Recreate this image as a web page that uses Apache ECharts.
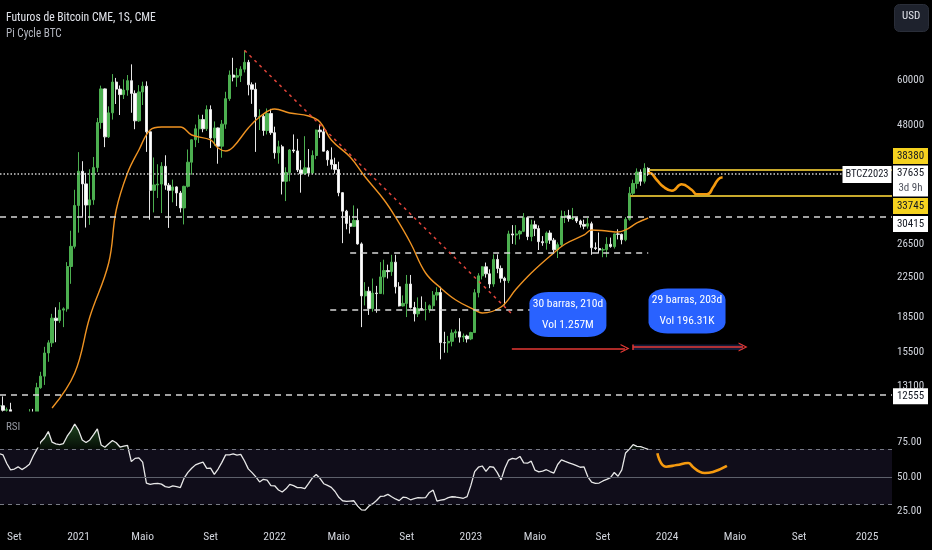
<!DOCTYPE html>
<html><head><meta charset="utf-8">
<script src="https://cdn.jsdelivr.net/npm/echarts@6/dist/echarts.min.js"></script>
<style>html,body{margin:0;padding:0;background:#000;}#c{width:932px;height:550px;}</style>
</head><body><div id="c"></div>
<script>
const FONT = '"Roboto Condensed","DejaVu Sans Condensed",sans-serif';

// ---------- DATA ----------
const firstWeek = '2020-08-10'; // weekly bars (1S)
const candleOpen = [
11900,11910,11650,11680,10250,10780,10775,10780,11070,11500,
11420,13030,13800,15480,16280,18400,18180,19150,19270,23780,
26280,32190,38150,35830,32260,33100,38850,48580,57410,45250,
50980,59400,57350,55810,57090,59800,56150,49000,56550,58200,
46400,34700,35650,35800,39100,35600,34700,35300,34250,31800,
35400,39900,44600,47100,49300,47100,51800,45000,47300,43200,
48200,54700,61500,60850,61300,63300,65500,58600,57300,50000,
50100,46700,50800,46200,41800,43080,36300,37900,42400,42200,
38400,37700,38800,37800,41250,46800,46400,42150,40380,39450,
38470,34300,31300,29450,29020,29900,26600,20550,21030,19300,
20840,20790,22580,23300,23180,24300,21500,19550,19800,21800,
19400,18800,19300,19200,19200,19570,20630,20900,16300,16280,
16400,17100,17200,16750,16840,16600,17130,20880,22700,23740,
22930,21800,24630,23550,22430,22170,27950,27800,27950,28320,
30300,27590,29250,28700,26900,26750,28080,27100,25830,26500,
30500,30600,30150,30300,29800,29300,29050,29400,26100,26000,
25800,25850,26550,26250,27950,27900,27150,30050,34200,35900,
38000,36300,38700];
const candleClose = [
11910,11650,11680,10250,10780,10775,10780,11070,11500,11420,
13030,13800,15480,16280,18400,18180,19150,19270,23780,26280,
32190,38150,35830,32260,33100,38850,48580,57410,45250,50980,
59400,57350,55810,57090,59800,56150,49000,56550,58200,46400,
34700,35650,35800,39100,35600,34700,35300,34250,31800,35400,
39900,44600,47100,49300,47100,51800,45000,47300,43200,48200,
54700,61500,60850,61300,63300,65500,58600,57300,50000,50100,
46700,50800,46200,41800,43080,36300,37900,42400,42200,38400,
37700,38800,37800,41250,46800,46400,42150,40380,39450,38470,
34300,31300,29450,29020,29900,26600,20550,21030,19300,20840,
20790,22580,23300,23180,24300,21500,19550,19800,21800,19400,
18800,19300,19200,19200,19570,20630,20900,16300,16280,16400,
17100,17200,16750,16840,16600,17130,20880,22700,23740,22930,
21800,24630,23550,22430,22170,27950,27800,27950,28320,30300,
27590,29250,28700,26900,26750,28080,27100,25830,26500,30500,
30600,30150,30300,29800,29300,29050,29400,26100,26000,25800,
25850,26550,26250,27950,27900,27150,30050,34200,35900,38000,
36300,38700,37635];
const candleHigh = [
12100,12480,11810,12090,10800,11180,10990,11100,11720,11730,
13350,14100,15960,16490,18800,19420,19920,19420,24300,28400,
34800,41950,40100,37850,38530,40950,49700,58350,57530,52640,
61790,60630,58400,60200,61500,64850,57000,58500,59500,59600,
46600,40850,39500,39900,41300,36000,36600,35400,34600,35500,
42500,44700,48100,50500,50500,52900,52900,48850,47400,49200,
56600,62900,67000,63700,64250,69500,66300,59300,59200,51900,
50700,52100,52000,47600,44400,43500,38900,42600,45800,44800,
40300,45400,42600,42300,46900,48200,47200,42400,42950,40800,
40000,34400,31500,30600,32200,31700,26800,22000,21500,22400,
21600,24300,24600,24000,25200,25200,22000,20600,22800,22800,
19950,20400,20500,19950,19700,21050,21450,21500,17200,16850,
17400,17400,18400,17050,16950,17200,21250,23000,23800,24250,
23450,25250,25250,23900,22600,28400,29200,29200,28500,31000,
30500,30000,29850,29150,27650,28300,28450,27400,26800,31400,
31300,31500,31800,30400,30000,30000,30250,29700,26800,28150,
26100,27500,27450,28000,28600,28000,30400,35300,36600,38700,
38500,39700,38900];
const candleLow = [
11150,11530,11120,9880,9880,10200,10140,10370,10530,11230,
11400,12960,13210,14820,15950,16330,17980,17600,19000,21820,
26000,28130,30420,28850,29240,32300,37990,47100,43000,45000,
49300,53270,50430,54600,55500,51000,47000,48750,53000,42000,
30000,31100,33400,31000,34800,28800,32700,32100,31100,29300,
35200,37500,43000,43900,46300,46600,42800,43300,39600,40800,
47100,54100,59600,58000,59400,62300,55600,53300,42000,46800,
45500,45800,45700,40600,39600,34000,32900,36300,41800,38000,
34300,37450,37150,37600,40500,45000,42100,39200,38500,37700,
33700,26700,28600,28000,29000,26500,17600,19600,18700,19000,
18900,20750,20700,22400,22700,20800,19500,19500,18500,19300,
18100,18500,19100,18200,18900,19250,20100,15000,15500,15500,
16000,16700,16300,16350,16300,16500,17100,20400,22300,22500,
21350,21500,23000,21950,19600,21900,26600,26500,27200,28200,
27100,26950,27650,25800,26350,25850,26600,25350,24800,26250,
29500,29700,29950,29500,28850,28600,28700,25200,25800,25350,
24900,24900,26100,26000,27200,26550,26950,29850,33900,35000,
35500,35900,37300];
const rsiValues = [
66.7,65.8,59.6,55.0,55.6,57.2,55.2,56.9,59.0,65.0,
70.0,75.1,78.0,82.7,75.0,73.8,73.2,74.0,79.3,83.2,
88.1,83.7,76.6,74.7,76.6,80.4,84.6,73.0,71.3,73.9,
76.2,74.6,71.5,72.1,72.7,61.0,63.3,63.7,60.6,45.5,
44.6,45.1,45.3,44.7,42.9,42.4,43.4,42.9,42.2,49.1,
53.2,56.2,58.6,59.7,60.6,56.1,56.2,51.7,55.6,60.4,
65.8,65.8,66.5,65.6,66.2,61.4,55.7,53.0,49.9,46.3,
48.2,47.6,43.7,43.5,40.5,39.0,41.3,44.5,43.6,42.2,
42.2,41.5,45.2,49.2,51.7,48.9,45.0,43.8,42.4,39.4,
35.2,32.7,32.3,32.5,32.7,28.8,26.1,25.9,28.9,30.6,
32.9,35.8,36.1,37.3,35.6,34.0,32.8,35.3,34.9,33.4,
34.2,34.9,34.8,35.0,38.7,40.4,32.5,33.2,33.6,35.0,
35.6,35.4,35.0,34.5,35.7,43.8,53.7,56.9,57.8,53.9,
57.4,56.9,53.0,47.8,56.2,62.1,63.3,62.8,64.7,60.1,
59.8,61.3,54.8,53.5,54.1,55.1,53.8,52.7,58.9,62.2,
61.1,60.1,59.1,58.1,56.9,57.1,50.0,46.2,45.3,45.5,
47.0,48.1,49.4,53.1,50.4,55.0,67.2,70.0,73.2,72.0,
71.8,70.8,69.8];

const piDates = ['2020-11-16','2020-12-28','2021-01-25','2021-03-01','2021-03-15','2021-04-05','2021-04-26','2021-05-17','2021-06-07','2021-07-12','2021-08-02','2021-09-06','2021-09-20','2021-10-04','2021-10-18','2021-11-15','2021-12-06','2022-01-03','2022-01-31','2022-03-07','2022-03-28','2022-04-18','2022-05-23','2022-06-20','2022-07-25','2022-08-15','2022-09-12','2022-10-10','2022-11-07','2022-12-05','2023-01-09','2023-01-23','2023-02-27','2023-03-27','2023-04-24','2023-05-29','2023-06-26','2023-07-31','2023-08-14','2023-09-11','2023-10-02','2023-10-16','2023-11-06','2023-11-27'];
const piValues = [11784,14020,18509,24199,31477,37822,42396,46821,47522,47522,45671,44552,42817,42186,43031,47288,49942,51963,50939,50187,48718,44552,40947,37078,33082,30402,26721,23025,21373,20139,19164,18881,19453,21268,23025,25054,26589,27805,28505,28362,28223,28505,29510,30251];

const projPriceDates = ['2023-11-30','2023-12-13','2023-12-25','2024-01-10','2024-01-28','2024-02-16','2024-02-25','2024-03-15','2024-03-27','2024-04-05','2024-04-13'];
const projPriceValues = [37822,36531,35337,34641,35760,34763,34029,34029,35337,36658,37023];
const projRsiDates = ['2023-12-14','2023-12-30','2024-01-19','2024-02-09','2024-02-18','2024-03-02','2024-03-11','2024-03-26','2024-04-21'];
const projRsiValues = [67.0,57.3,58.5,60.0,57.1,53.5,52.7,53.5,57.8];

const lastPrice = 37635, lastLabel = '3d 9h', symbolName = 'BTCZ2023';
const rangeHigh = 38380, rangeLow = 33745;
const levelFull = [30415, 12555];
const levelPartial = [{from:'2022-05-23', to:'2023-11-27', price:25430}, {from:'2022-04-16', to:'2023-04-22', price:19213}];
const rangeHighFrom = '2023-11-29', rangeLowFrom = '2023-10-24';
const trendFrom = ['2021-11-08', 69500], trendTo = ['2023-03-21', 18694];
const dateRanges = [
  {from:'2023-03-19', to:'2023-10-15', price:15830, boxDate:'2023-07-01', boxPrice:18742, lines:['30 barras, 210d','Vol 1.257M']},
  {from:'2023-10-30', to:'2024-05-21', price:15949, boxDate:'2024-02-07', boxPrice:19069, lines:['29 barras, 203d','Vol 196.31K'], bandTop:16150, bandBottom:15720}
];

const priceTicks = [60000, 48000, 26500, 22500, 18500, 15500, 13100];
const rsiTicks = [25, 50, 75];
const rsiLevels = {upper:70, middle:50, lower:30};
const xTickDates = ['2020-09-07','2021-01-04','2021-05-03','2021-09-06','2022-01-03','2022-05-02','2022-09-05','2023-01-02','2023-05-01','2023-09-04','2024-01-01','2024-05-06','2024-09-02','2025-01-06'];
const xTickLabels = ['Set','2021','Maio','Set','2022','Maio','Set','2023','Maio','Set','2024','Maio','Set','2025'];

// ---------- BUILD ----------
const ts = s => { const p = s.split('-').map(Number); return Date.UTC(p[0], p[1]-1, p[2]); };
const WEEK = 7*86400000;
const weekTimes = candleOpen.map((_, i) => ts(firstWeek) + i*WEEK);
const X_MIN = Date.UTC(2020,7,11,8,38), X_MAX = Date.UTC(2025,1,21,7,0);
const P_MIN = 11607, P_MAX = 89252;
const xLabelMap = {}; xTickDates.forEach((d,i)=>{ xLabelMap[ts(d)] = xTickLabels[i]; });

const candleData = weekTimes.map((t,i)=>[t, candleOpen[i], candleClose[i], candleLow[i], candleHigh[i]]);
const rsiData = weekTimes.map((t,i)=>[t, rsiValues[i]]);
const piData = piDates.map((d,i)=>[ts(d), piValues[i]]);
const projPrice = [[weekTimes[weekTimes.length-1], lastPrice]].concat(projPriceDates.map((d,i)=>[ts(d), projPriceValues[i]]));
const projRsi = projRsiDates.map((d,i)=>[ts(d), projRsiValues[i]]);

const lblColor = '#d1d4dc';
const AX_FS = 11, BOX_FS = 11.5;
const dashW = {color:'#d6d6d6', width:1.5, type:[6,5]};
const redLine = {color:'#e53935', width:1.5, type:'solid'};
const chevron = 'path://M0,10L6,0L12,10L10.4,10L6,2.8L1.6,10Z';

const axisBox = (value, text, bg, dy, h) => ({
  coord:[X_MAX, value], symbol:'rect', symbolSize:[35, h||16], symbolOffset:[18.5, dy],
  itemStyle:{color:bg},
  label:{show:true, position:'inside', formatter:text, color:'#131722', fontSize:AX_FS, fontFamily:FONT}
});

const option = {
  animation:false,
  backgroundColor:'#000000',
  textStyle:{fontFamily:FONT},
  grid:[
    {left:0, right:40, top:0, height:411},
    {left:0, right:40, top:418, height:107}
  ],
  xAxis:[
    {type:'value', gridIndex:0, min:X_MIN, max:X_MAX, show:false, splitLine:{show:false}},
    {type:'value', gridIndex:1, min:X_MIN, max:X_MAX,
     axisLine:{show:false}, axisTick:{show:false}, splitLine:{show:false},
     axisLabel:{customValues:xTickDates.map(ts), formatter:v=>xLabelMap[v]||'', color:lblColor, fontSize:11.5, margin:6, fontFamily:FONT}}
  ],
  yAxis:[
    {type:'log', gridIndex:0, position:'right', min:P_MIN, max:P_MAX, logBase:10,
     axisLine:{show:false}, axisTick:{show:false}, splitLine:{show:false},
     axisLabel:{customValues:priceTicks, formatter:v=>String(Math.round(v)), color:lblColor, fontSize:AX_FS, margin:5, fontFamily:FONT}},
    {type:'value', gridIndex:1, position:'right', min:15.2, max:92.45,
     axisLine:{show:false}, axisTick:{show:false}, splitLine:{show:false},
     axisLabel:{customValues:rsiTicks, formatter:v=>Number(v).toFixed(2), color:lblColor, fontSize:AX_FS, margin:5, fontFamily:FONT}}
  ],
  graphic:[
    // pane separator mask: hides candle wicks that run below the price pane
    {type:'rect', left:0, top:411.5, z:100, shape:{width:40, height:36}, style:{fill:'#000000'}},
    {type:'text', left:6, top:11, scaleX:0.93, originX:6, style:{text:'Futuros de Bitcoin CME, 1S, CME', fill:'#e1e3ea', fontSize:12.5, fontFamily:FONT}},
    {type:'text', left:6, top:28, scaleX:0.93, originX:6, style:{text:'Pi Cycle BTC', fill:'#b2b5be', fontSize:12, fontFamily:FONT}},
    {type:'text', left:6, top:422, z:101, style:{text:'RSI', fill:'#9598a1', fontSize:11, fontFamily:FONT}},
    {type:'rect', left:894, top:4, shape:{width:34, height:27, r:5}, style:{fill:'#1e222d', stroke:'#2a2e39', lineWidth:1}},
    {type:'text', left:902, top:11, style:{text:'USD', fill:'#e1e3ea', fontSize:AX_FS, fontFamily:FONT}}
  ],
  series:[
    {type:'line', name:'levels', xAxisIndex:0, yAxisIndex:0, data:[], z:2, silent:true,
     markLine:{silent:true, symbol:'none', label:{show:false}, animation:false, data:[
       {yAxis:lastPrice, lineStyle:{color:'#cfcfcf', width:1.5, type:[1.5,2]}},
       {yAxis:levelFull[0], lineStyle:dashW},
       {yAxis:levelFull[1], lineStyle:dashW},
       [{coord:[ts(levelPartial[0].from), levelPartial[0].price], lineStyle:dashW},{coord:[ts(levelPartial[0].to), levelPartial[0].price]}],
       [{coord:[ts(levelPartial[1].from), levelPartial[1].price], lineStyle:dashW},{coord:[ts(levelPartial[1].to), levelPartial[1].price]}],
       [{coord:[ts(rangeHighFrom), rangeHigh], lineStyle:{color:'#c8a92c', width:2, type:'solid'}},{coord:[X_MAX, rangeHigh]}],
       [{coord:[ts(rangeLowFrom), rangeLow], lineStyle:{color:'#c8a92c', width:2, type:'solid'}},{coord:[X_MAX, rangeLow]}],
       [{coord:[ts(trendFrom[0]), trendFrom[1]], lineStyle:{color:'#e0443a', width:1.5, type:[3,4]}},{coord:[ts(trendTo[0]), trendTo[1]]}]
     ]}},
    {type:'line', name:'ranges', xAxisIndex:0, yAxisIndex:0, data:[], z:2, silent:true,
     markArea:{silent:true, itemStyle:{color:'#141b38'}, data:[
       [{coord:[ts(dateRanges[1].from), dateRanges[1].bandTop]},{coord:[ts(dateRanges[1].to), dateRanges[1].bandBottom]}]
     ]},
     markLine:{silent:true, label:{show:false}, symbolSize:9, data:[
       [{coord:[ts(dateRanges[0].from), dateRanges[0].price], symbol:'none', lineStyle:redLine},
        {coord:[ts(dateRanges[0].to), dateRanges[0].price], symbol:chevron}],
       [{coord:[ts(dateRanges[1].from), dateRanges[1].price], symbol:'none', lineStyle:redLine},
        {coord:[ts(dateRanges[1].to), dateRanges[1].price], symbol:chevron}],
       [{coord:[ts(dateRanges[1].from), dateRanges[1].bandTop], symbol:'none', lineStyle:redLine},
        {coord:[ts(dateRanges[1].from), dateRanges[1].bandBottom], symbol:'none'}]
     ]}},
    {type:'candlestick', name:'BTC', xAxisIndex:0, yAxisIndex:0, data:candleData, encode:{x:0, y:[1,2,3,4]},
     barWidth:2.8, clip:true, z:3,
     itemStyle:{color:'#4caf50', color0:'#ffffff', borderColor:'#4caf50', borderColor0:'#e6e6e6', borderWidth:1}},
    {type:'line', name:'Pi Cycle', xAxisIndex:0, yAxisIndex:0, data:piData, smooth:0.4, showSymbol:false, z:4,
     lineStyle:{color:'#ef9322', width:1.4}},
    {type:'line', name:'proj', xAxisIndex:0, yAxisIndex:0, data:projPrice, smooth:0.5, showSymbol:false, z:4,
     lineStyle:{color:'#f59a0f', width:2.6}},
    {type:'line', name:'boxes', xAxisIndex:0, yAxisIndex:0, data:[], z:10, silent:true,
     markPoint:{silent:true, data:[
       axisBox(rangeHigh, String(rangeHigh), '#f5d21f', -14),
       {coord:[X_MAX, lastPrice], symbol:'rect', symbolSize:[35,31], symbolOffset:[18.5,7], itemStyle:{color:'#ffffff'},
        label:{show:true, position:'inside', formatter:'{a|'+lastPrice+'}\n{b|'+lastLabel+'}',
          rich:{a:{color:'#131722', fontSize:AX_FS, lineHeight:15, fontFamily:FONT}, b:{color:'#50535e', fontSize:AX_FS, lineHeight:15, fontFamily:FONT}}}},
       axisBox(rangeLow, String(rangeLow), '#f5d21f', 10),
       axisBox(levelFull[0], String(levelFull[0]), '#ffffff', 7),
       axisBox(levelFull[1], String(levelFull[1]), '#ffffff', 1),
       {coord:[X_MAX, lastPrice], symbol:'rect', symbolSize:[49,17], symbolOffset:[-25,0.5], itemStyle:{color:'#ffffff'},
        label:{show:true, position:'inside', formatter:symbolName, color:'#131722', fontSize:10.5, fontFamily:FONT}},
       ...dateRanges.map(r=>({coord:[ts(r.boxDate), r.boxPrice], symbol:'roundRect', symbolSize:[77,45], itemStyle:{color:'#2962ff'},
        label:{show:true, position:'inside', formatter:r.lines.map(l=>'{a|'+l+'}').join('\n'),
          rich:{a:{color:'#ffffff', fontSize:BOX_FS, lineHeight:21, fontFamily:FONT}}}}))
     ]}},
    {type:'line', name:'rsiBand', xAxisIndex:1, yAxisIndex:1, data:[], z:1, silent:true,
     markArea:{silent:true, itemStyle:{color:'#100d1a'}, data:[[{yAxis:rsiLevels.lower},{yAxis:rsiLevels.upper}]]},
     markLine:{silent:true, symbol:'none', label:{show:false}, data:[
       {yAxis:rsiLevels.upper, lineStyle:{color:'#787b86', width:1, type:[4,4]}},
       {yAxis:rsiLevels.lower, lineStyle:{color:'#787b86', width:1, type:[4,4]}},
       {yAxis:rsiLevels.middle, lineStyle:{color:'#5d606b', width:1, type:'solid'}}
     ]}},
    {type:'line', name:'RSI', xAxisIndex:1, yAxisIndex:1, data:rsiData, showSymbol:false, z:3,
     lineStyle:{color:'#e8e8e8', width:1.3},
     areaStyle:{origin:rsiLevels.upper, color:new echarts.graphic.LinearGradient(0,418,0,449.3,[
       {offset:0, color:'rgba(76,175,80,0.65)'},{offset:0.98, color:'rgba(76,175,80,0.12)'},{offset:1, color:'rgba(0,0,0,0)'}], true)}},
    {type:'line', name:'rsiProj', xAxisIndex:1, yAxisIndex:1, data:projRsi, smooth:0.5, showSymbol:false, z:4,
     lineStyle:{color:'#f59a0f', width:2.6}}
  ]
};
const chart = echarts.init(document.getElementById('c'), null, {renderer:'canvas'});
chart.setOption(option);
</script>
</body></html>
